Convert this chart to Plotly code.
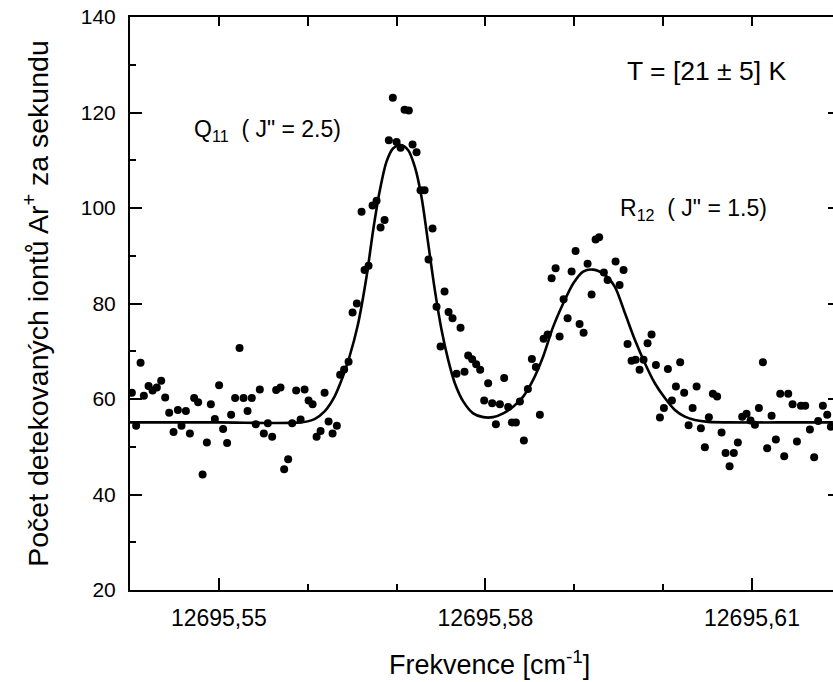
import plotly.graph_objects as go

# ---- measured data (frequency in cm^-1, counts per second) ----
freq = [
    12695.54021, 12695.54069, 12695.54119, 12695.54156, 12695.54209, 12695.54254, 12695.54302, 12695.54351,
    12695.54396, 12695.54441, 12695.54490, 12695.54539, 12695.54580, 12695.54629, 12695.54674, 12695.54722,
    12695.54767, 12695.54817, 12695.54865, 12695.54910, 12695.54955, 12695.55003, 12695.55048, 12695.55093,
    12695.55138, 12695.55183, 12695.55233, 12695.55278, 12695.55323, 12695.55371, 12695.55416, 12695.55461,
    12695.55506, 12695.55551, 12695.55600, 12695.55645, 12695.55694, 12695.55735, 12695.55780, 12695.55825,
    12695.55870, 12695.55920, 12695.55965, 12695.56010, 12695.56055, 12695.56100, 12695.56145, 12695.56190,
    12695.56235, 12695.56280, 12695.56328, 12695.56365, 12695.56410, 12695.56460, 12695.56505, 12695.56553,
    12695.56606, 12695.56640, 12695.56685, 12695.56730, 12695.56775, 12695.56820, 12695.56865, 12695.56913,
    12695.56958, 12695.57000, 12695.57045, 12695.57090, 12695.57138, 12695.57180, 12695.57225, 12695.57270,
    12695.57315, 12695.57360, 12695.57405, 12695.57450, 12695.57495, 12695.57540, 12695.57585, 12695.57630,
    12695.57675, 12695.57720, 12695.57765, 12695.57806, 12695.57851, 12695.57896, 12695.57941, 12695.57986,
    12695.58031, 12695.58076, 12695.58118, 12695.58163, 12695.58211, 12695.58256, 12695.58298, 12695.58343,
    12695.58388, 12695.58433, 12695.58478, 12695.58523, 12695.58568, 12695.58613, 12695.58655, 12695.58700,
    12695.58745, 12695.58790, 12695.58835, 12695.58880, 12695.58925, 12695.58970, 12695.59015, 12695.59060,
    12695.59105, 12695.59150, 12695.59195, 12695.59240, 12695.59280, 12695.59333, 12695.59375, 12695.59465,
    12695.59510, 12695.59555, 12695.59600, 12695.59645, 12695.59690, 12695.59735, 12695.59780, 12695.59825,
    12695.59870, 12695.59919, 12695.59964, 12695.60009, 12695.60054, 12695.60099, 12695.60144, 12695.60192,
    12695.60237, 12695.60287, 12695.60332, 12695.60377, 12695.60425, 12695.60470, 12695.60515, 12695.60560,
    12695.60608, 12695.60658, 12695.60703, 12695.60748, 12695.60796, 12695.60841, 12695.60890, 12695.60939,
    12695.60984, 12695.61033, 12695.61078, 12695.61123, 12695.61171, 12695.61221, 12695.61269, 12695.61318,
    12695.61363, 12695.61408, 12695.61457, 12695.61506, 12695.61551, 12695.61599, 12695.61652, 12695.61700,
    12695.61745, 12695.61798, 12695.61847, 12695.61888,
]
counts = [
    61.3, 54.4, 67.6, 60.7, 62.7, 61.8, 62.4, 63.8,
    60.3, 57.1, 53.1, 57.7, 54.4, 57.5, 52.8, 60.2,
    59.3, 44.2, 50.9, 58.9, 55.8, 62.9, 53.7, 50.8,
    56.7, 60.2, 70.7, 60.2, 57.5, 60.2, 54.7, 62.0,
    52.8, 54.9, 52.1, 61.9, 62.4, 45.3, 47.4, 54.9,
    61.8, 55.7, 62.0, 59.7, 58.9, 52.1, 53.3, 61.3,
    55.3, 52.8, 54.4, 65.1, 66.2, 67.8, 78.1, 80.0,
    99.2, 87.0, 87.9, 100.5, 101.5, 95.9, 97.5, 114.2,
    123.1, 113.8, 112.6, 120.6, 120.4, 113.3, 111.7, 103.7,
    103.7, 89.2, 95.7, 79.3, 71.0, 82.5, 78.2, 76.9,
    65.3, 74.9, 65.7, 69.1, 68.3, 67.3, 66.1, 59.7,
    63.3, 59.1, 54.7, 58.9, 64.4, 58.3, 55.1, 55.1,
    59.5, 51.3, 62.1, 68.4, 66.7, 56.7, 72.6, 73.5,
    85.3, 87.4, 73.1, 80.9, 76.9, 86.7, 91.0, 75.7,
    73.9, 88.3, 81.9, 93.4, 93.9, 86.5, 84.9, 88.8,
    83.9, 87.0, 71.5, 68.0, 68.2, 66.1, 68.2, 71.7,
    73.5, 67.1, 56.1, 58.1, 66.3, 59.7, 62.6, 67.7,
    61.3, 54.5, 58.1, 62.6, 53.9, 49.9, 56.2, 61.1,
    60.5, 53.0, 48.7, 45.9, 48.7, 50.9, 56.3, 56.9,
    55.5, 54.6, 58.1, 67.7, 49.7, 56.5, 51.5, 61.1,
    48.0, 61.1, 58.9, 51.1, 58.6, 58.6, 53.6, 47.8,
    55.4, 58.6, 56.7, 54.2,
]

# fitted curve
fit_freq = [
    12695.54000, 12695.55000, 12695.55923, 12695.56077, 12695.56190, 12695.56302, 12695.56396, 12695.56471,
    12695.56564, 12695.56662, 12695.56737, 12695.56812, 12695.56887, 12695.56962, 12695.57045, 12695.57131,
    12695.57206, 12695.57281, 12695.57356, 12695.57431, 12695.57506, 12695.57581, 12695.57656, 12695.57750,
    12695.57862, 12695.57975, 12695.58087, 12695.58200, 12695.58312, 12695.58425, 12695.58537, 12695.58650,
    12695.58762, 12695.58875, 12695.58988, 12695.59100, 12695.59213, 12695.59344, 12695.59457, 12695.59570,
    12695.59682, 12695.59795, 12695.59907, 12695.60020, 12695.60132, 12695.60245, 12695.60357, 12695.60507,
    12695.60732, 12695.61300, 12695.61911,
]
fit_counts = [
    55.1, 55.1, 55.1, 55.8, 57.4, 60.5, 64.7, 68.9,
    75.5, 85.6, 95.4, 103.7, 109.7, 112.5, 113.2, 112.1,
    108.6, 102.3, 92.6, 82.8, 74.5, 68.2, 63.3, 59.5,
    57.0, 56.2, 56.2, 57.0, 58.4, 60.5, 64.0, 68.9,
    75.1, 80.0, 84.2, 86.7, 87.1, 86.0, 83.5, 78.0,
    72.4, 67.5, 63.3, 60.2, 57.7, 56.3, 55.6, 55.2,
    55.1, 55.1, 55.1,
]

x_range = [12695.54, 12695.61912]
y_range = [20, 140]
x_tickvals = [12695.55, 12695.58, 12695.61]
x_ticktext = ["12695,55", "12695,58", "12695,61"]
y_tickvals = [20, 40, 60, 80, 100, 120, 140]

FONT = "Liberation Sans, Arial, sans-serif"

fig = go.Figure()
fig.add_trace(go.Scatter(
    x=freq, y=counts, mode="markers",
    marker=dict(color="black", size=8, line=dict(width=0)),
    showlegend=False, hoverinfo="x+y",
))
fig.add_trace(go.Scatter(
    x=fit_freq, y=fit_counts, mode="lines",
    line=dict(color="black", width=2.6, shape="spline", smoothing=0.8),
    showlegend=False,
))

axis_common = dict(color="black", linecolor="black", tickcolor="black", showgrid=False, zeroline=False)

fig.update_layout(
    width=833, height=682,
    margin=dict(l=130, r=0, t=17, b=92),
    paper_bgcolor="white", plot_bgcolor="white",
    font=dict(family=FONT, color="black", size=22),
    xaxis=dict(
        **axis_common,
        range=x_range, showline=True, linewidth=2, mirror=False,
        tickmode="array", tickvals=x_tickvals, ticktext=x_ticktext,
        ticks="inside", ticklen=12, tickwidth=2,
        minor=dict(tickmode="linear", tick0=12695.54, dtick=0.01, ticks="inside", ticklen=6, tickwidth=2, tickcolor="black"),
        tickfont=dict(size=23, family=FONT),
        ticklabelstandoff=6,
    ),
    xaxis2=dict(
        **axis_common,
        overlaying="x", side="top", anchor="y", range=x_range,
        showline=True, linewidth=2,
        tickmode="linear", tick0=12695.54, dtick=0.01,
        ticks="inside", ticklen=9, tickwidth=2, showticklabels=False,
    ),
    yaxis=dict(
        **axis_common,
        range=y_range, showline=True, linewidth=2, mirror=False,
        tickmode="array", tickvals=y_tickvals,
        ticks="inside", ticklen=12, tickwidth=2,
        minor=dict(tickmode="linear", tick0=20, dtick=10, ticks="inside", ticklen=6, tickwidth=2, tickcolor="black"),
        tickfont=dict(size=21, family=FONT),
        ticklabelstandoff=8,
        title=dict(text="Počet detekovaných iontů Ar<sup>+</sup> za sekundu", font=dict(size=28.5, family=FONT), standoff=24),
    ),
    yaxis2=dict(
        **axis_common,
        overlaying="y", side="right", anchor="x", range=y_range,
        showline=False,
        tickmode="array", tickvals=y_tickvals,
        ticks="inside", ticklen=5, tickwidth=2, showticklabels=False,
    ),
    annotations=[
        dict(x=0.5107, y=-0.127, xref="paper", yref="paper", text="Frekvence [cm<sup>-1</sup>]",
             showarrow=False, xanchor="center", yanchor="middle", font=dict(size=27, family=FONT)),
        dict(x=12695.5957, y=128.6, xref="x", yref="y", text="T = [21 ± 5] K",
             showarrow=False, xanchor="left", yanchor="middle", font=dict(size=26.5, family=FONT)),
        dict(x=12695.54696, y=116.3, xref="x", yref="y", text="Q<sub>11</sub>  ( J\" = 2.5)",
             showarrow=False, xanchor="left", yanchor="middle", font=dict(size=23, family=FONT)),
        dict(x=12695.59490, y=99.6, xref="x", yref="y", text="R<sub>12</sub>  ( J\" = 1.5)",
             showarrow=False, xanchor="left", yanchor="middle", font=dict(size=23, family=FONT)),
    ],
)

# invisible helper trace so the overlay axes (top and right ticks) are drawn
fig.add_trace(go.Scatter(x=[x_range[0]], y=[y_range[0]], xaxis="x2", yaxis="y2", mode="markers",
                         marker=dict(opacity=0), showlegend=False, hoverinfo="skip"))

fig.write_html("out.html")
